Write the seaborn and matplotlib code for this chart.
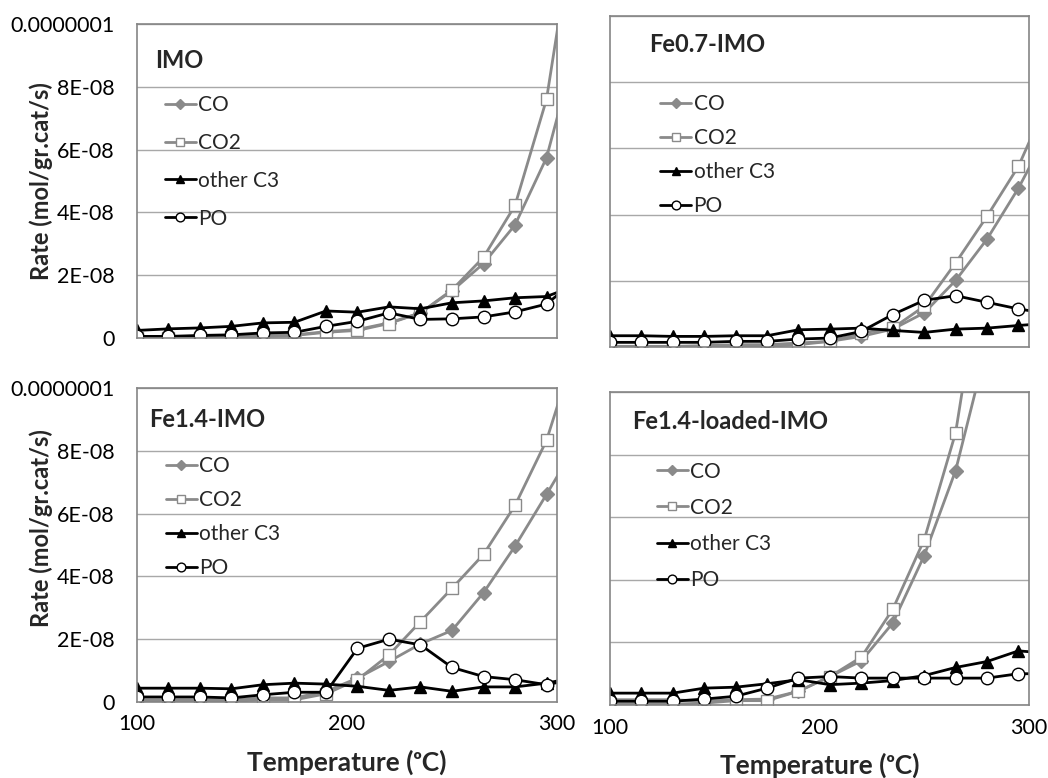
import numpy as np
import pandas as pd
import seaborn as sns
import matplotlib.pyplot as plt

# Temperatures (oC); last point sits just past the axis end, as in the source sheet
temps = [100, 115, 130, 145, 160, 175, 190, 205, 220, 235, 250, 265, 280, 295, 310]

# rates in units of 1E-08 mol/gr.cat/s
imo_co = [0.05, 0.05, 0.05, 0.06, 0.08, 0.10, 0.20, 0.27, 0.48, 0.80, 1.50, 2.37, 3.60, 5.74, 9.5]
imo_co2 = [0.00, 0.00, 0.00, 0.02, 0.05, 0.08, 0.18, 0.24, 0.46, 0.80, 1.53, 2.57, 4.22, 7.60, 14.0]
imo_c3 = [0.24, 0.29, 0.32, 0.37, 0.48, 0.50, 0.86, 0.82, 0.99, 0.93, 1.12, 1.18, 1.28, 1.32, 1.70]
imo_po = [0.05, 0.05, 0.08, 0.10, 0.16, 0.18, 0.37, 0.53, 0.80, 0.59, 0.61, 0.67, 0.83, 1.08, 1.90]

fe07_co = [0.02, 0.02, 0.02, 0.04, 0.07, 0.07, 0.12, 0.17, 0.32, 0.54, 1.03, 2.01, 3.26, 4.80, 6.6]
fe07_co2 = [0.00, 0.00, 0.00, 0.00, 0.00, 0.02, 0.07, 0.17, 0.42, 0.57, 1.23, 2.54, 3.95, 5.46, 7.6]
fe07_c3 = [0.34, 0.34, 0.32, 0.32, 0.34, 0.34, 0.52, 0.54, 0.57, 0.50, 0.44, 0.54, 0.57, 0.65, 0.72]
fe07_po = [0.14, 0.14, 0.14, 0.14, 0.17, 0.17, 0.24, 0.27, 0.47, 0.98, 1.41, 1.55, 1.35, 1.15, 1.0]

fe14_co = [0.07, 0.07, 0.07, 0.07, 0.13, 0.13, 0.34, 0.76, 1.29, 1.85, 2.28, 3.48, 4.96, 6.61, 8.3]
fe14_co2 = [0.00, 0.00, 0.00, 0.02, 0.07, 0.07, 0.26, 0.71, 1.50, 2.56, 3.62, 4.70, 6.26, 8.33, 11.5]
fe14_c3 = [0.44, 0.44, 0.44, 0.42, 0.55, 0.60, 0.57, 0.50, 0.37, 0.48, 0.34, 0.48, 0.48, 0.60, 0.80]
fe14_po = [0.16, 0.16, 0.16, 0.13, 0.23, 0.31, 0.31, 1.71, 2.00, 1.82, 1.10, 0.81, 0.71, 0.55, 0.75]

fe14l_co = [0.17, 0.17, 0.17, 0.12, 0.17, 0.19, 0.44, 0.91, 1.41, 2.62, 4.77, 7.49, 11.5, 17.0, 24.0]
fe14l_co2 = [0.03, 0.03, 0.03, 0.06, 0.14, 0.14, 0.44, 0.91, 1.53, 3.06, 5.28, 8.70, 15.0, 23.0, 32.0]
fe14l_c3 = [0.38, 0.38, 0.38, 0.54, 0.57, 0.68, 0.81, 0.65, 0.70, 0.78, 0.94, 1.20, 1.39, 1.73, 1.65]
fe14l_po = [0.12, 0.12, 0.12, 0.19, 0.28, 0.54, 0.86, 0.91, 0.86, 0.86, 0.86, 0.86, 0.86, 1.00, 1.00]

series_names = ["CO", "CO2", "other C3", "PO"]
panel_titles = ["IMO", "Fe0.7-IMO", "Fe1.4-IMO", "Fe1.4-loaded-IMO"]
y_ticks = [0, 2e-08, 4e-08, 6e-08, 8e-08, 1e-07]
y_tick_labels = ["0", "2E-08", "4E-08", "6E-08", "8E-08", "0.0000001"]
x_ticks = [100, 200, 300]

panels = [
    [imo_co, imo_co2, imo_c3, imo_po],
    [fe07_co, fe07_co2, fe07_c3, fe07_po],
    [fe14_co, fe14_co2, fe14_c3, fe14_po],
    [fe14l_co, fe14l_co2, fe14l_c3, fe14l_po],
]

sns.set_style("white")
plt.rcParams["font.family"] = ["Lato", "DejaVu Sans"]

GREY = "#8a8a8a"
styles = {
    "CO": dict(color=GREY, marker="D", markerfacecolor=GREY, markeredgecolor=GREY, markersize=7),
    "CO2": dict(color=GREY, marker="s", markerfacecolor="white", markeredgecolor=GREY, markersize=8),
    "other C3": dict(color="black", marker="^", markerfacecolor="black", markeredgecolor="black", markersize=8.5),
    "PO": dict(color="black", marker="o", markerfacecolor="white", markeredgecolor="black", markersize=9),
}

fig = plt.figure(figsize=(10.48, 7.78), dpi=100)
# axes boxes [left, bottom, width, height] in figure fraction
boxes = [
    [0.1307, 0.5656, 0.4008, 0.4036],
    [0.5820, 0.5540, 0.3998, 0.4254],
    [0.1307, 0.0977, 0.4008, 0.4036],
    [0.5820, 0.0938, 0.3998, 0.4023],
]
title_pos = [(0.043, 0.885), (0.093, 0.915), (0.029, 0.900), (0.053, 0.907)]
legend_pos = [(0.066, 0.774), (0.120, 0.765), (0.068, 0.784), (0.112, 0.778)]
legend_gap = [0.86, 0.68, 0.68, 0.78]
ylabel_y = [0.5, None, 0.554, None]

for i, (box, data) in enumerate(zip(boxes, panels)):
    ax = fig.add_axes(box)
    handles = []
    for name, vals in zip(series_names, data):
        y = np.array(vals) * 1e-08
        sns.lineplot(x=temps, y=y, ax=ax, linewidth=2.0, sort=False,
                     markeredgewidth=1.0, **styles[name])
        handles.append(ax.lines[-1])

    ax.set_xlim(100, 300)
    ax.set_ylim(0, 1e-07)
    ax.set_yticks(y_ticks)
    ax.set_xticks(x_ticks)
    ax.yaxis.grid(True, color="#a8a8a8", linewidth=1.0)
    ax.set_axisbelow(True)
    for sp in ax.spines.values():
        sp.set_color("#858585")
        sp.set_linewidth(1.2)
    ax.tick_params(length=0, labelsize=15.5, colors="black")
    ax.tick_params(axis="y", pad=16)
    ax.tick_params(axis="x", pad=9)

    if i % 2 == 0:
        ax.set_yticklabels(y_tick_labels)
        ax.set_ylabel("Rate (mol/gr.cat/s)", fontsize=17, fontweight="bold")
        ax.yaxis.set_label_coords(-0.20, ylabel_y[i])
    else:
        ax.set_yticklabels([])
        ax.set_ylabel("")
    if i >= 2:
        ax.set_xticklabels([str(t) for t in x_ticks])
        ax.set_xlabel("Temperature (ᵒC)", fontsize=19, fontweight="bold", labelpad=11)
    else:
        ax.set_xticklabels([])
        ax.set_xlabel("")

    ax.text(title_pos[i][0], title_pos[i][1], panel_titles[i], transform=ax.transAxes,
            fontsize=17, fontweight="bold", va="center", ha="left")
    ax.legend(handles, series_names, loc="upper left", bbox_to_anchor=legend_pos[i],
              frameon=False, fontsize=15, handlelength=1.5, handletextpad=0.1,
              borderpad=0, borderaxespad=0, labelspacing=legend_gap[i], markerscale=0.7)

plt.savefig("out.png", dpi=100)
plt.close()
